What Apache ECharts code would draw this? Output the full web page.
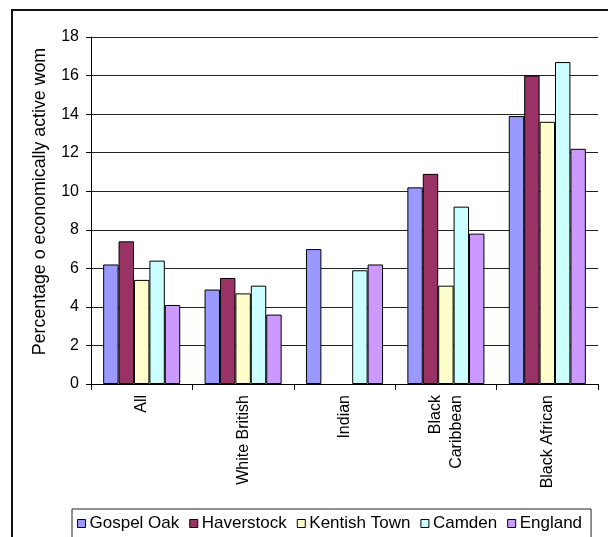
<!DOCTYPE html>
<html>
<head>
<meta charset="utf-8">
<script src="https://cdn.jsdelivr.net/npm/echarts@6/dist/echarts.min.js"></script>
<style>
  html, body { margin: 0; padding: 0; background: #fff; }
  #chart { width: 608px; height: 537px; }
</style>
</head>
<body>
<div id="chart"></div>
<script>
// Unemployment among economically active women, by ethnic group and area
const categories = ['All', 'White British', 'Indian', 'Black\nCaribbean', 'Black African'];
const gospelOak    = [6.2, 4.9, 7.0, 10.2, 13.9];
const haverstock   = [7.4, 5.5, null, 10.9, 16.0];
const kentishTown  = [5.4, 4.7, null, 5.1, 13.6];
const camden       = [6.4, 5.1, 5.9, 9.2, 16.7];
const england      = [4.1, 3.6, 6.2, 7.8, 12.2];
const yTicks = { min: 0, max: 18, interval: 2 };

const seriesDefs = [
  { name: 'Gospel Oak',   data: gospelOak,   color: '#9999FF' },
  { name: 'Haverstock',   data: haverstock,  color: '#993366' },
  { name: 'Kentish Town', data: kentishTown, color: '#FFFFCC' },
  { name: 'Camden',       data: camden,      color: '#CCFFFF' },
  { name: 'England',      data: england,     color: '#CC99FF' }
];

const FONT = 'Liberation Sans, Arial, sans-serif';
const chart = echarts.init(document.getElementById('chart'), null, { renderer: 'canvas' });

chart.setOption({
  animation: false,
  backgroundColor: '#ffffff',
  graphic: [
    {
      type: 'rect',
      shape: { x: 12, y: 10, width: 700, height: 600 },
      style: { fill: 'none', stroke: '#111', lineWidth: 2 },
      silent: true
    }
  ],
  grid: { left: 91, top: 37, width: 507, height: 347, containLabel: false },
  legend: {
    left: 72,
    top: 509,
    padding: [6, 9, 20, 5],
    borderColor: '#222',
    borderWidth: 1,
    itemWidth: 8,
    itemHeight: 8,
    itemGap: 10,
    icon: 'rect',
    itemStyle: { borderColor: '#000', borderWidth: 1 },
    textStyle: { fontFamily: FONT, fontSize: 17, color: '#000', padding: [0, 0, 0, -1] },
    data: seriesDefs.map(s => s.name)
  },
  xAxis: {
    type: 'category',
    data: categories,
    boundaryGap: true,
    axisLine: { lineStyle: { color: '#000', width: 1 } },
    axisTick: { show: true, length: 6, inside: false, lineStyle: { color: '#000' } },
    axisLabel: {
      rotate: 90,
      margin: 11,
      interval: 0,
      fontFamily: FONT,
      fontSize: 16,
      color: '#000',
      lineHeight: 21
    },
    splitLine: { show: false }
  },
  yAxis: {
    type: 'value',
    min: yTicks.min,
    max: yTicks.max,
    interval: yTicks.interval,
    name: 'Percentage o economically active wom',
    nameLocation: 'middle',
    nameGap: 42,
    nameRotate: 90,
    nameTextStyle: { fontFamily: FONT, fontSize: 17.8, color: '#000', padding: [0, 0, 0, 18] },
    axisLine: { show: true, lineStyle: { color: '#000', width: 1 } },
    axisTick: { show: true, length: 5, inside: false, lineStyle: { color: '#000' } },
    axisLabel: { margin: 12, fontFamily: FONT, fontSize: 16, color: '#000' },
    splitLine: { show: true, lineStyle: { color: '#222', width: 1 } }
  },
  series: seriesDefs.map(s => ({
    name: s.name,
    type: 'bar',
    data: s.data,
    barGap: '0%',
    barCategoryGap: '24%',
    itemStyle: { color: s.color, borderColor: '#000', borderWidth: 1 }
  }))
});
</script>
</body>
</html>
